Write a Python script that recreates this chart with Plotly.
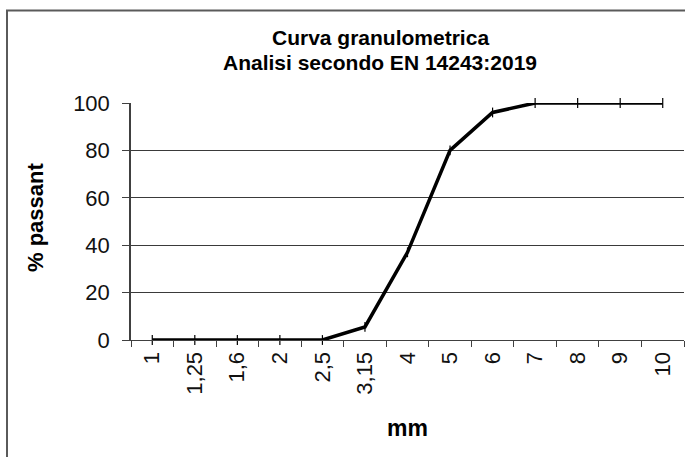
import plotly.graph_objects as go

# Data
sieve_labels = ["1", "1,25", "1,6", "2", "2,5", "3,15", "4", "5", "6", "7", "8", "9", "10"]
passing_pct = [0, 0, 0, 0, 0, 5.5, 37, 80, 96, 100, 100, 100, 100]
y_ticks = [0, 20, 40, 60, 80, 100]

title_line1 = "Curva granulometrica"
title_line2 = "Analisi secondo EN 14243:2019"
x_title = "mm"
y_title = "% passant"

FONT = "Liberation Sans, Arial, sans-serif"

fig = go.Figure()
fig.add_trace(go.Scatter(
    x=sieve_labels,
    y=passing_pct,
    mode="lines+markers",
    line=dict(color="black", width=3.5),
    marker=dict(symbol="line-ns", size=7, line=dict(color="black", width=1.2)),
    cliponaxis=False,
    showlegend=False,
))

L, R, T, B = 131, 1, 103, 117
W, H = 685, 457
pw = W - L - R
ph = H - T - B

fig.update_layout(
    width=W, height=H,
    margin=dict(l=L, r=R, t=T, b=B, pad=0),
    paper_bgcolor="white",
    plot_bgcolor="white",
    font=dict(family=FONT, color="#111111"),
    showlegend=False,
)

fig.update_xaxes(
    type="category",
    range=[-0.5, len(sieve_labels) - 0.5],
    tickson="boundaries",
    ticks="outside", ticklen=6, tickwidth=1, tickcolor="#404040",
    tickangle=-90,
    tickfont=dict(size=22, family=FONT, color="#111111"),
    ticklabelstandoff=2,
    showline=True, linecolor="#404040", linewidth=1.2,
    showgrid=False, zeroline=False,
)
fig.update_yaxes(
    range=[0, 100],
    tickvals=y_ticks,
    ticks="outside", ticklen=7, tickwidth=1, tickcolor="#404040",
    tickfont=dict(size=22, family=FONT, color="#111111"),
    ticklabelstandoff=8,
    showline=True, linecolor="#404040", linewidth=1.5,
    showgrid=True, gridcolor="#3a3a3a", gridwidth=1,
    zeroline=False,
)

# outer border (partially outside the visible area, as in the reference)
fig.add_shape(type="rect", xref="paper", yref="paper",
              x0=(7 - L) / pw, x1=(700 - L) / pw,
              y0=(H - B - 470) / ph, y1=(H - B - 10.5) / ph,
              line=dict(color="#5a5a5a", width=2), fillcolor="rgba(0,0,0,0)", layer="below")

# titles
fig.add_annotation(text="<b>" + title_line1 + "</b>", xref="paper", yref="paper",
                   x=(380 - L) / pw, y=1, xanchor="center", yanchor="middle",
                   yshift=T - 37, showarrow=False,
                   font=dict(size=21, family=FONT, color="black"))
fig.add_annotation(text="<b>" + title_line2 + "</b>", xref="paper", yref="paper",
                   x=(380 - L) / pw, y=1, xanchor="center", yanchor="middle",
                   yshift=T - 62, showarrow=False,
                   font=dict(size=21, family=FONT, color="black"))
fig.add_annotation(text="<b>" + x_title + "</b>", xref="paper", yref="paper",
                   x=(407 - L) / pw, y=0, xanchor="center", yanchor="middle",
                   yshift=-(428 - (H - B)), showarrow=False,
                   font=dict(size=23, family=FONT, color="black"))
fig.add_annotation(text="<b>" + y_title + "</b>", xref="paper", yref="paper",
                   x=0, y=(H - B - 218) / ph, xanchor="center", yanchor="middle",
                   xshift=35 - L, textangle=-90, showarrow=False,
                   font=dict(size=22, family=FONT, color="black"))

fig.write_html("out.html", config={"displayModeBar": False},
               post_script="document.body.style.margin='0px';")
